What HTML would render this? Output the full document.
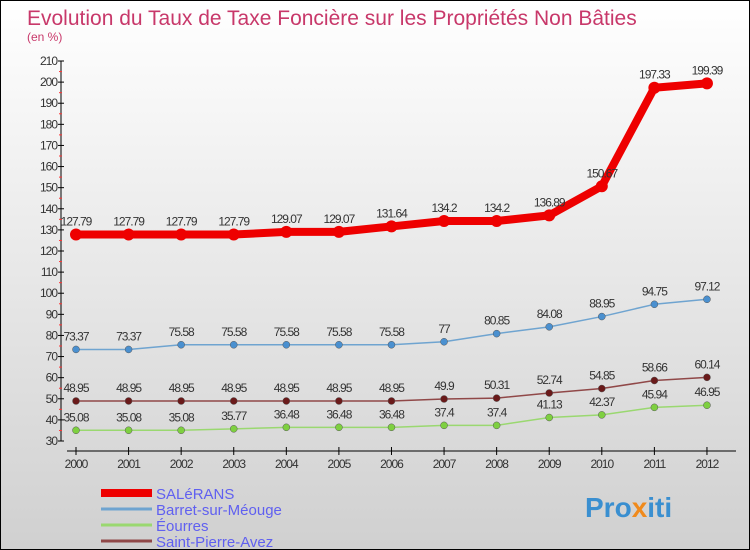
<!DOCTYPE html>
<html><head><meta charset="utf-8"><style>
body{margin:0}
#c{width:750px;height:550px;position:relative;box-sizing:border-box;border:1px solid #000;background:linear-gradient(#fff,#d0d0d0);font-family:"Liberation Sans",sans-serif;overflow:hidden}
svg text{font-family:"Liberation Sans",sans-serif}
</style></head><body>
<div id="c">
<svg id="s" width="750" height="550">
<text x="26" y="24" font-size="21" fill="#c8386a">Evolution du Taux de Taxe Foncière sur les Propriétés Non Bâties</text>
<text x="26" y="40" font-size="12" fill="#c8386a">(en %)</text>
<g id="g"></g>
<text x="584" y="516" font-size="28" font-weight="bold" fill="#3a8fd0">Pro<tspan fill="#f08a1c">x</tspan>iti</text>
</svg>
</div>
<script>
const years=[2000,2001,2002,2003,2004,2005,2006,2007,2008,2009,2010,2011,2012];
const yTicks=[30,40,50,60,70,80,90,100,110,120,130,140,150,160,170,180,190,200,210];
const salerans=[127.79,127.79,127.79,127.79,129.07,129.07,131.64,134.2,134.2,136.89,150.67,197.33,199.39];
const barret=[73.37,73.37,75.58,75.58,75.58,75.58,75.58,77,80.85,84.08,88.95,94.75,97.12];
const eourres=[35.08,35.08,35.08,35.77,36.48,36.48,36.48,37.4,37.4,41.13,42.37,45.94,46.95];
const stpierre=[48.95,48.95,48.95,48.95,48.95,48.95,48.95,49.9,50.31,52.74,54.85,58.66,60.14];
const names=["SALéRANS","Barret-sur-Méouge","Éourres","Saint-Pierre-Avez"];
const NS="http://www.w3.org/2000/svg";
const g=document.getElementById('g');
const X=i=>75+i*52.58;
const Y=v=>440-(v-30)*380/180;
function mk(t,a,p){const e=document.createElementNS(NS,t);for(const k in a)e.setAttribute(k,a[k]);(p||g).appendChild(e);return e;}
let e=mk('line',{x1:60,y1:60,x2:60,y2:440,stroke:'#000'});


e=mk('line',{x1:66,y1:450,x2:735,y2:450,stroke:'#000'});


yTicks.forEach((v,i)=>{
 mk('line',{x1:57,x2:63,y1:Y(v),y2:Y(v),stroke:'#000'});
 if(i<yTicks.length-1)mk('line',{x1:58,x2:61,y1:Y(v+5),y2:Y(v+5),stroke:'#f33'});
 const t=mk('text',{x:56,y:Y(v)+4,'font-size':12,'text-anchor':'end',fill:'#333','letter-spacing':'-1'});
 t.textContent=v;
 
 
});
years.forEach((y,i)=>{
 mk('line',{x1:X(i),x2:X(i),y1:446,y2:454,stroke:'#000'});
 const t=mk('text',{x:X(i),y:467,'font-size':12,'text-anchor':'middle',fill:'#333','letter-spacing':'-1'});
 t.textContent=y;
 
 
});
const series=[[salerans,'#e00',8,'#e00',6],[barret,'#6fa4d0',1.5,'#4a90d0',3.5],[eourres,'#9ad870',1.5,'#7ed040',3.5],[stpierre,'#904848',1.5,'#6a1a1a',3.5]];
series.forEach(([d,c,w,mc,r],si)=>{
 const p=mk('polyline',{points:d.map((v,i)=>X(i)+','+Y(v)).join(' '),fill:'none',stroke:c,'stroke-width':w,'stroke-linejoin':'round'});
 
 
 d.forEach((v,i)=>{
  const m=mk('circle',{cx:X(i),cy:Y(v),r:r,fill:mc,stroke:si?'#555':'none','stroke-width':0.5});
  
  
  const t=mk('text',{x:X(i),y:Y(v)-9,'font-size':12,'text-anchor':'middle',fill:'#333','letter-spacing':'-1'});
  t.textContent=v;
  
  
 });
 const ly=492+si*16;
 const l=mk('line',{x1:100,x2:151,y1:ly,y2:ly,stroke:c,'stroke-width':si?3:8});
 
 
 const lt=mk('text',{x:155,y:ly+6,'font-size':15,fill:'#6060f0'});
 lt.textContent=names[si];
 
 
});
</script>
</body></html>
